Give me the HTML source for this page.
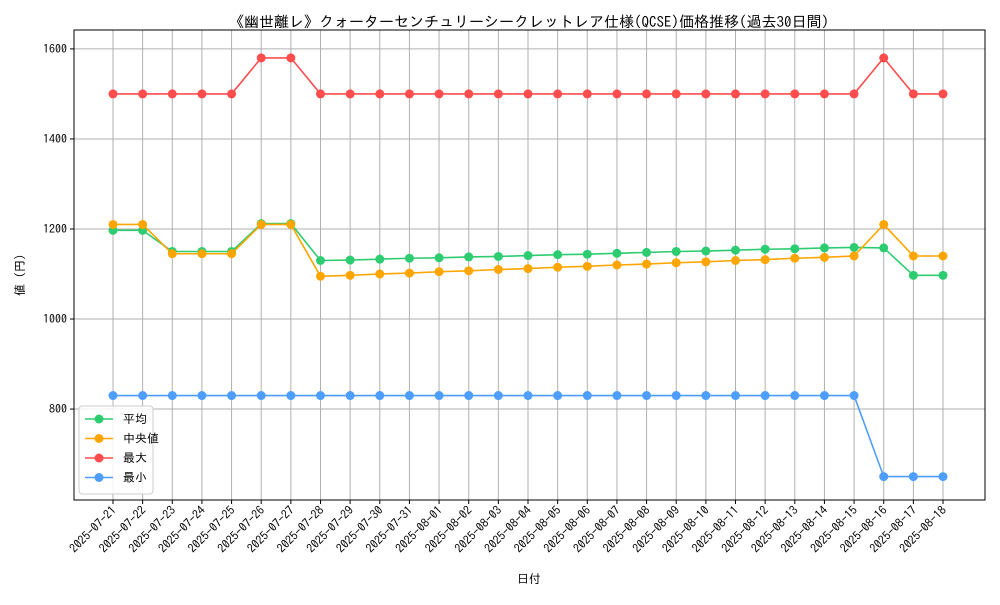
<!DOCTYPE html>
<html><head><meta charset="utf-8"><style>
body{margin:0;background:#fff;}
svg text{font-family:"IPAGothic","Noto Sans CJK JP",sans-serif;fill:#000;}
</style></head><body>
<svg id="chart" width="1000" height="600" xmlns="http://www.w3.org/2000/svg">
<text x="529" y="27" font-size="15" text-anchor="middle">《幽世離レ》クォーターセンチュリーシークレットレア仕様(QCSE)価格推移(過去30日間)</text>
<g id="grid"></g><g id="axes"></g><g id="series"></g>
<text x="529" y="583" font-size="12" text-anchor="middle">日付</text>
<text x="24" y="275" font-size="12" text-anchor="middle" transform="rotate(-90 24 275)">値 (円)</text>
</svg>
<script>
const dates=["2025-07-21","2025-07-22","2025-07-23","2025-07-24","2025-07-25","2025-07-26","2025-07-27","2025-07-28","2025-07-29","2025-07-30","2025-07-31","2025-08-01","2025-08-02","2025-08-03","2025-08-04","2025-08-05","2025-08-06","2025-08-07","2025-08-08","2025-08-09","2025-08-10","2025-08-11","2025-08-12","2025-08-13","2025-08-14","2025-08-15","2025-08-16","2025-08-17","2025-08-18"];
const avgValues=[1197,1197,1150,1150,1150,1212,1212,1130,1131,1133,1135,1136,1138,1139,1141,1143,1144,1146,1148,1150,1151,1153,1155,1156,1158,1159,1158,1097,1097];
const medianValues=[1210,1210,1145,1145,1145,1210,1210,1095,1097,1100,1102,1105,1107,1110,1112,1115,1117,1120,1122,1125,1127,1130,1132,1135,1137,1140,1210,1140,1140];
const maxValues=[1500,1500,1500,1500,1500,1580,1580,1500,1500,1500,1500,1500,1500,1500,1500,1500,1500,1500,1500,1500,1500,1500,1500,1500,1500,1500,1580,1500,1500];
const minValues=[830,830,830,830,830,830,830,830,830,830,830,830,830,830,830,830,830,830,830,830,830,830,830,830,830,830,650,650,650];
const yTicks=[800,1000,1200,1400,1600];
const seriesNames=["平均","中央値","最大","最小"];
const NS="http://www.w3.org/2000/svg";
const L=74,R=985,T=30,B=500,Y0=598,Y1=1642;
const x=i=>113+i*(943-113)/(dates.length-1);
const y=v=>B-(v-Y0)/(Y1-Y0)*(B-T);
function mk(tag,attrs,parent){const e=document.createElementNS(NS,tag);for(const k in attrs)e.setAttribute(k,attrs[k]);parent.appendChild(e);return e;}
const grid=document.getElementById('grid'),axes=document.getElementById('axes'),ser=document.getElementById('series');
dates.forEach((d,i)=>{
  const g=mk('line',{x1:x(i),x2:x(i),y1:T,y2:B,stroke:'#b0b0b0','stroke-width':1},grid);
  
  
  mk('line',{x1:x(i),x2:x(i),y1:B,y2:B+4,stroke:'#000'},axes);
  const t=mk('text',{x:x(i)+4,y:B+11,'font-size':12,'text-anchor':'end',transform:`rotate(-45 ${x(i)+4} ${B+11})`},axes);
  t.textContent=d;
  
  
});
yTicks.forEach(v=>{
  const g=mk('line',{x1:L,x2:R,y1:y(v),y2:y(v),stroke:'#b0b0b0','stroke-width':1},grid);
  
  
  mk('line',{x1:L-4,x2:L,y1:y(v),y2:y(v),stroke:'#000'},axes);
  const t=mk('text',{x:L-7,y:y(v)+4,'font-size':12,'text-anchor':'end'},axes);
  t.textContent=v;
  
  
});
const frame=mk('rect',{x:L,y:T,width:R-L,height:B-T,fill:'none',stroke:'#000','stroke-width':1},axes);


const all=[[avgValues,'#2ecc71','avg'],[medianValues,'#ffa500','median'],[maxValues,'#ff4d4d','max'],[minValues,'#4d9eff','min']];
all.forEach(([vals,c,n])=>{
  const p=mk('polyline',{points:vals.map((v,i)=>x(i)+','+y(v)).join(' '),fill:'none',stroke:c,'stroke-width':1.6},ser);
  
  
  vals.forEach((v,i)=>{
    const cc=mk('circle',{cx:x(i),cy:y(v),r:4.5,fill:c},ser);
    
    
  });
});
const lg=mk('g',{},ser);


mk('rect',{x:79,y:406,width:74,height:88,fill:'#fff','fill-opacity':0.85,stroke:'#ccc',rx:3},lg);
all.forEach(([v,c,n],k)=>{
  const yy=419+k*19.5;
  const e=mk('g',{},lg);
  
  
  mk('line',{x1:85,x2:113,y1:yy,y2:yy,stroke:c,'stroke-width':1.6},e);
  mk('circle',{cx:99,cy:yy,r:4.5,fill:c},e);
  const t=mk('text',{x:123,y:yy+4,'font-size':12},e);
  t.textContent=seriesNames[k];
});
</script>
</body></html>
